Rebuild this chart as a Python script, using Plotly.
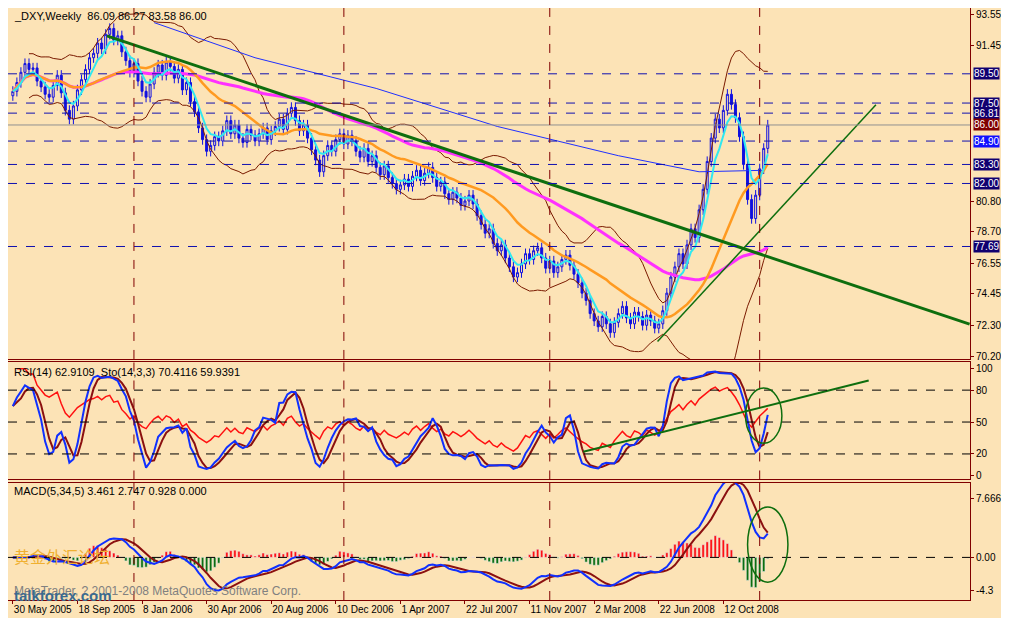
import pandas as pd
import numpy as np
import plotly.graph_objects as go
from plotly.subplots import make_subplots

# weekly closes of _DXY (30 May 2005 .. Dec 2008)
closes = [88.3, 88.9, 89.6, 90.2, 89.8, 89.9, 89.0, 88.6, 88.1, 87.9,
          88.7, 89.4, 88.2, 87.0, 86.4, 87.3, 88.4, 89.1, 89.8, 90.6,
          90.9, 91.6, 91.2, 92.2, 92.6, 91.8, 92.1, 91.0, 90.4, 89.6,
          90.2, 89.0, 88.3, 87.9, 88.8, 89.6, 90.1, 89.4, 90.3, 90.0,
          89.2, 89.8, 88.4, 88.9, 87.6, 86.9, 85.8, 85.0, 84.2, 84.6,
          85.2, 84.9, 85.6, 86.3, 85.4, 86.0, 85.1, 84.8, 85.7, 85.3,
          84.9, 85.4, 85.8, 85.0, 85.6, 85.9, 86.4, 85.7, 86.8, 87.2,
          86.3, 85.6, 86.0, 85.1, 84.3, 83.6, 82.8, 83.9, 84.6, 84.2,
          85.0, 85.4, 84.7, 85.3, 84.9, 84.2, 83.8, 84.4, 83.5, 83.9,
          83.1, 82.6, 83.2, 82.4, 82.0, 81.6, 81.9, 82.3, 81.8, 82.5,
          82.9, 82.2, 82.7, 83.1, 82.4, 81.8, 82.1, 81.3, 80.9, 81.4,
          81.0, 80.5, 80.8, 81.2, 80.6, 79.8, 79.2, 78.6, 78.9, 77.9,
          77.4, 77.8, 76.9, 76.3, 75.6, 75.9, 76.5, 77.2, 76.8, 77.4,
          77.6, 76.9, 76.2, 76.7, 75.9, 76.3, 76.8, 77.1, 76.4, 75.8,
          75.2, 74.5, 74.0, 73.1, 72.6, 72.2, 72.9, 72.4, 71.8, 72.5,
          73.1, 73.6, 72.8, 72.4, 73.2, 72.9, 72.3, 73.0, 72.6, 72.1,
          72.4, 73.3, 74.5, 75.6, 76.3, 77.2, 76.5, 77.8, 78.9, 78.3,
          80.2, 81.6, 83.5, 85.1, 86.4, 85.8, 87.0, 88.1, 87.4, 86.5,
          85.2, 83.3, 80.9, 79.6, 81.2, 83.0, 84.4, 86.0]
first_open = 88.0
wick = 0.35

# long moving average (its history starts before the visible window)
long_ma_idx = [35, 60, 90, 120, 150, 170, 186]
long_ma_val = [93.0, 90.6, 88.5, 85.9, 83.9, 82.8, 82.9]

tick_idx = [0, 16, 32, 48, 64, 80, 96, 112, 128, 144, 160, 176]
tick_txt = ["30 May 2005", "18 Sep 2005", "8 Jan 2006", "30 Apr 2006", "20 Aug 2006",
            "10 Dec 2006", "1 Apr 2007", "22 Jul 2007", "11 Nov 2007", "2 Mar 2008",
            "22 Jun 2008", "12 Oct 2008"]
year_lines = [30, 82, 133, 185]

price_ticks = [93.55, 91.45, 80.80, 78.70, 76.55, 74.45, 72.30, 70.20]
levels = [89.50, 87.50, 86.81, 84.90, 83.30, 82.00, 77.69]

trend_down = ([23.3, 237.0], [92.09, 72.38])
trend_up = ([159.7, 213.8], [71.19, 87.38])
rsi_trend = ([141.3, 212.0], [22, 89])

BG = "#FCE3B6"
MAROON = "#800000"

c = pd.Series(closes)
o = c.shift(1).fillna(first_open)
h = np.maximum(o, c) + wick
l = np.minimum(o, c) - wick
x = list(range(len(c)))

ema5 = c.ewm(span=5, adjust=False).mean()
ma21 = c.rolling(21, min_periods=1).mean()
ma55 = c.rolling(55, min_periods=1).mean()
bb_mid = c.rolling(20, min_periods=5).mean()
bb_sd = c.rolling(20, min_periods=5).std()

d = c.diff()
up = d.clip(lower=0).ewm(alpha=1/14, adjust=False).mean()
dn = (-d.clip(upper=0)).ewm(alpha=1/14, adjust=False).mean()
rsi = 100 - 100 / (1 + up / dn)
ll = l.rolling(14, min_periods=1).min()
hh = h.rolling(14, min_periods=1).max()
k = ((c - ll).rolling(3, min_periods=1).sum() / (hh - ll).rolling(3, min_periods=1).sum()) * 100
sig = k.rolling(3, min_periods=1).mean()

macd = c.rolling(5, min_periods=1).mean() - c.rolling(34, min_periods=1).mean()
macd_sig = macd.rolling(5, min_periods=1).mean()
hist = (macd - macd_sig)

fig = make_subplots(rows=3, cols=1, shared_xaxes=True, vertical_spacing=0.006,
                    row_heights=[0.6, 0.2, 0.2])

fig.add_trace(go.Scatter(x=x, y=bb_mid + 2 * bb_sd, mode="lines", line=dict(color="#7a1a00", width=1)), 1, 1)
fig.add_trace(go.Scatter(x=x, y=bb_mid - 2 * bb_sd, mode="lines", line=dict(color="#7a1a00", width=1)), 1, 1)
fig.add_trace(go.Scatter(x=long_ma_idx, y=long_ma_val, mode="lines", line=dict(color="#2030ff", width=1)), 1, 1)
fig.add_trace(go.Scatter(x=x, y=ma55, mode="lines", line=dict(color="#ff30ff", width=3)), 1, 1)
fig.add_trace(go.Scatter(x=x, y=ma21, mode="lines", line=dict(color="#ff9a20", width=2.5)), 1, 1)
fig.add_trace(go.Candlestick(x=x, open=o, high=h, low=l, close=c,
                             increasing=dict(line=dict(color="#1010e0", width=1), fillcolor=BG),
                             decreasing=dict(line=dict(color="#1010e0", width=1), fillcolor="#1010e0"),
                             whiskerwidth=0), 1, 1)
fig.add_trace(go.Scatter(x=x, y=ema5, mode="lines", line=dict(color="#30e8f0", width=2)), 1, 1)
fig.add_trace(go.Scatter(x=trend_down[0], y=trend_down[1], mode="lines", line=dict(color="#0e6e0e", width=3)), 1, 1)
fig.add_trace(go.Scatter(x=trend_up[0], y=trend_up[1], mode="lines", line=dict(color="#0e6e0e", width=1.5)), 1, 1)

fig.add_trace(go.Scatter(x=x, y=rsi, mode="lines", line=dict(color="#ff1010", width=1.5)), 2, 1)
fig.add_trace(go.Scatter(x=x, y=sig, mode="lines", line=dict(color="#8b1010", width=2)), 2, 1)
fig.add_trace(go.Scatter(x=x, y=k, mode="lines", line=dict(color="#1030ff", width=2)), 2, 1)
fig.add_trace(go.Scatter(x=rsi_trend[0], y=rsi_trend[1], mode="lines", line=dict(color="#0e6e0e", width=2)), 2, 1)

fig.add_trace(go.Bar(x=x, y=hist * 1.3, marker_color=["#ff1010" if v > 0 else "#0e6e0e" for v in hist],
                     width=0.6), 3, 1)
fig.add_trace(go.Scatter(x=x, y=macd_sig, mode="lines", line=dict(color="#8b1010", width=2)), 3, 1)
fig.add_trace(go.Scatter(x=x, y=macd, mode="lines", line=dict(color="#1030ff", width=2)), 3, 1)

for lv in levels:
    fig.add_hline(y=lv, line=dict(color="#1010b0", width=1, dash="dash"), row=1, col=1)
fig.add_hline(y=86.00, line=dict(color="#909090", width=1), row=1, col=1)
for lv in [80, 50, 20]:
    fig.add_hline(y=lv, line=dict(color="#000000", width=1, dash="dash"), row=2, col=1)
fig.add_hline(y=0, line=dict(color="#000000", width=1, dash="dash"), row=3, col=1)
for xi in year_lines:
    for r in (1, 2, 3):
        fig.add_vline(x=xi, line=dict(color=MAROON, width=1, dash="dash"), row=r, col=1)

fig.add_shape(type="circle", xref="x2", yref="y2", x0=181.5, x1=190.5, y0=30, y1=82,
              line=dict(color="#0e6e0e", width=1.5))
fig.add_shape(type="circle", xref="x3", yref="y3", x0=182, x1=192, y0=-3.2, y1=6.5,
              line=dict(color="#0e6e0e", width=1.5))

font = dict(family="Liberation Sans, Arial", size=11, color="#000000")
fig.update_layout(width=1001, height=610, margin=dict(l=0, r=39, t=0, b=18, autoexpand=False),
                  paper_bgcolor=BG, plot_bgcolor=BG, showlegend=False, font=font,
                  xaxis_rangeslider_visible=False)
for r in (1, 2, 3):
    fig.update_xaxes(range=[-1.2, 237.1], showgrid=False, zeroline=False, showline=True,
                     linecolor=MAROON, mirror=True, automargin=False, row=r, col=1)
fig.update_xaxes(tickvals=tick_idx, ticktext=tick_txt, ticks="outside", ticklen=3,
                 tickcolor=MAROON, ticklabelposition="outside right", tickfont=dict(size=10),
                 tickangle=0, row=3, col=1)
fig.update_yaxes(side="right", showgrid=False, zeroline=False, showline=True, linecolor=MAROON,
                 mirror=True, ticks="outside", ticklen=3, tickcolor=MAROON, tickfont=dict(size=10),
                 automargin=False)
fig.update_yaxes(range=[70.0, 94.0], tickvals=price_ticks, ticktext=[f"{v:.2f}" for v in price_ticks],
                 row=1, col=1)
fig.update_yaxes(range=[-4, 106], tickvals=[100, 80, 50, 20, 0], row=2, col=1)
fig.update_yaxes(range=[-5.5, 9.6], tickvals=[7.666, 0, -4.3], ticktext=["7.666", "0.00", "-4.3"],
                 row=3, col=1)

for lv in levels + [86.00]:
    bg = "#100070"
    if lv == 86.00:
        bg = MAROON
    if lv == 84.90:
        bg = "#1010ff"
    fig.add_annotation(x=1.0, xref="paper", y=lv, yref="y", text=f"{lv:.2f}", xanchor="left", xshift=3,
                       showarrow=False, bgcolor=bg, font=dict(color="white", size=10), borderpad=0)

fig.add_annotation(x=0.004, y=1.0, xref="paper", yref="paper", xanchor="left", yanchor="top",
                   text="_DXY,Weekly  86.09 86.27 83.58 86.00", showarrow=False, font=font)
fig.add_annotation(x=0.004, y=0.398, xref="paper", yref="paper", xanchor="left", yanchor="top",
                   text="RSI(14) 62.9109  Sto(14,3,3) 70.4116 59.9391", showarrow=False, font=font)
fig.add_annotation(x=0.004, y=0.197, xref="paper", yref="paper", xanchor="left", yanchor="top",
                   text="MACD(5,34,5) 3.461 2.747 0.928 0.000", showarrow=False, font=font)
fig.add_annotation(x=0.004, y=0.0, xref="paper", yref="paper", xanchor="left", yanchor="bottom",
                   text="MetaTrader, ? 2001-2008 MetaQuotes Software Corp.", showarrow=False,
                   font=dict(family="Liberation Sans", size=12, color="#808080"))
fig.add_annotation(x=0.004, y=0.05, xref="paper", yref="paper", xanchor="left", yanchor="bottom",
                   text="黄金外汇论坛", showarrow=False,
                   font=dict(family="Noto Sans CJK SC", size=16, color="#f0b030"))
fig.add_annotation(x=0.004, y=-0.01, xref="paper", yref="paper", xanchor="left", yanchor="bottom",
                   text="<b>talkforex.com</b>", showarrow=False,
                   font=dict(family="Liberation Sans", size=15, color="#3a6a90"))

fig.write_html("out.html")
